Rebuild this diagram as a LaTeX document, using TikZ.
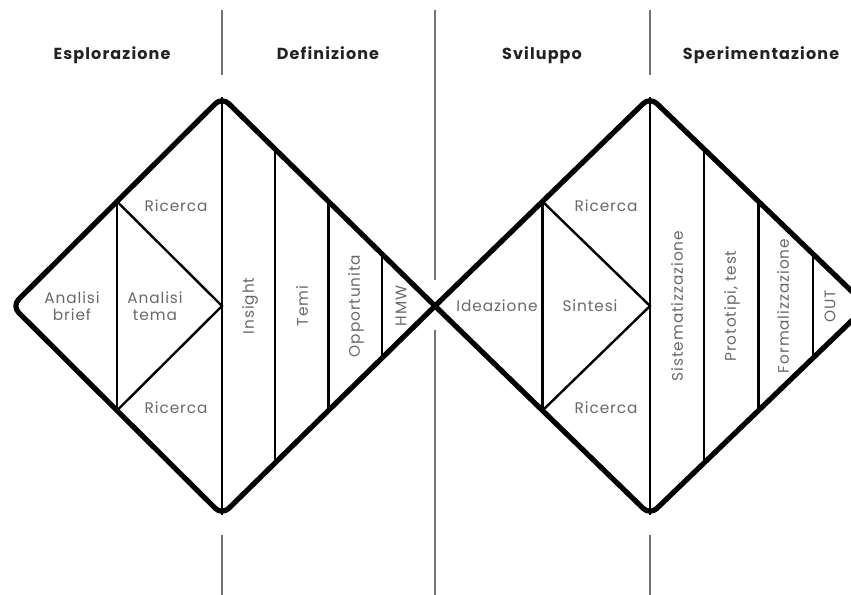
\documentclass[tikz,border=0pt]{standalone}
\usepackage{fontspec}
\setmainfont{Poppins}
\newfontfamily\labelfont[LetterSpace=6]{Poppins}
\newfontfamily\phasefont[LetterSpace=7]{Poppins}
\usetikzlibrary{calc}
\definecolor{labelgray}{RGB}{105,105,105}
\definecolor{titlegray}{RGB}{35,35,35}
\definecolor{sepgray}{RGB}{115,115,115}

\begin{document}
\begin{tikzpicture}[x=0.75pt,y=0.75pt,yscale=-1,xscale=1,
    outline/.style={line width=3.9pt, line join=round, rounded corners=7pt},
    inner/.style={line width=1.8pt},
    sep/.style={color=sepgray, line width=1.3pt},
    phase/.style={color=titlegray, font=\fontsize{12}{14}\phasefont\bfseries, anchor=base},
    lbl/.style={color=labelgray, font=\fontsize{11.5}{13}\labelfont, align=center, inner sep=0pt},
    vlbl/.style={lbl, rotate=90}]
\clip (0,0) rectangle (851,595);
%Vertices of the two diamonds
\coordinate (LT) at (222,97);
\coordinate (LL) at (12,306);
\coordinate (LB) at (222,515);
\coordinate (C) at (435,306);
\coordinate (RT) at (650,97);
\coordinate (RR) at (867,306);
\coordinate (RB) at (650,515);
\coordinate (LM) at ($(LT)!0.5!(LB)$);
\coordinate (RM) at ($(RT)!0.5!(RB)$);
%Separators
\draw[sep] (222,10) -- (222,75);
\draw[sep] (222,535) -- (222,595);
\draw[sep] (650,10) -- (650,75);
\draw[sep] (650,535) -- (650,595);
\draw[sep] (435,10) -- (435,280);
\draw[sep] (435,330) -- (435,595);
%Outline
\draw[outline] (C) -- (LT) -- (LL) -- (LB) -- (C) -- (RT) -- (RR) -- (RB) -- cycle;
%Left diamond, inner lines
\coordinate (LU) at ($(LL)!0.5!(LT)$);
\coordinate (LD) at ($(LL)!0.5!(LB)$);
\draw[inner] (LU) -- (LD);
\draw[inner] (LU) -- (LM) -- (LD);
\draw[inner] (LT) -- (LB);
\foreach \t in {0.25,0.5,0.75}
  \draw[inner] ($(LT)!\t!(C)$) -- ($(LB)!\t!(C)$);
%Right diamond, inner lines
\coordinate (RU) at ($(C)!0.5!(RT)$);
\coordinate (RD) at ($(C)!0.5!(RB)$);
\draw[inner] (RU) -- (RD);
\draw[inner] (RU) -- (RM) -- (RD);
\draw[inner] (RT) -- (RB);
\foreach \t in {0.25,0.5,0.75}
  \draw[inner] ($(RT)!\t!(RR)$) -- ($(RB)!\t!(RR)$);
%Phases
\node[phase] (esp) at (112,60) {Esplorazione};
\node[phase] (def) at (328,60) {Definizione};
\node[phase] (svi) at (542,60) {Sviluppo};
\node[phase] (spe) at (761,60) {Sperimentazione};
%Labels, left
\node[lbl] (ric1) at (176,206) {Ricerca};
\node[lbl] (ric2) at (176,408) {Ricerca};
\node[lbl] (brief) at (72,306) {Analisi\\brief};
\node[lbl] (tema) at (155,306) {Analisi\\tema};
\node[vlbl] (ins) at (250,306) {Insight};
\node[vlbl] (temi) at (302,306) {Temi};
\node[vlbl] (opp) at (356,306) {Opportunita};
\node[vlbl] (hmw) at (401,306) {HMW};
%Labels, right
\node[lbl] (ide) at (497,306) {Ideazione};
\node[lbl] (sin) at (590,306) {Sintesi};
\node[lbl] (ric3) at (606,206) {Ricerca};
\node[lbl] (ric4) at (606,408) {Ricerca};
\node[vlbl] (sis) at (677,306) {Sistematizzazione};
\node[vlbl] (pro) at (732,306) {Prototipi, test};
\node[vlbl] (for) at (783,306) {Formalizzazione};
\node[vlbl] (out) at (830,306) {OUT};
\end{tikzpicture}
\end{document}
